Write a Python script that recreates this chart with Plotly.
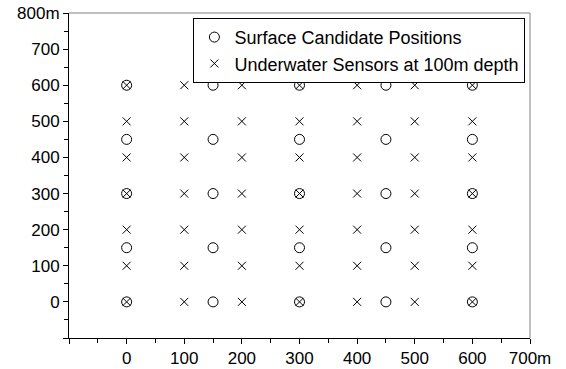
import plotly.graph_objects as go

# Surface candidate positions (circles)
surface_x = [0, 150, 300, 450, 600, 0, 150, 300, 450, 600, 0, 150, 300, 450, 600, 0, 150, 300, 450, 600, 0, 150, 300, 450, 600]
surface_y = [0, 0, 0, 0, 0, 150, 150, 150, 150, 150, 300, 300, 300, 300, 300, 450, 450, 450, 450, 450, 600, 600, 600, 600, 600]

# Underwater sensors (crosses)
sensor_x = [0, 100, 200, 300, 400, 500, 600] * 7
sensor_y = ([0] * 7 + [100] * 7 + [200] * 7 + [300] * 7 + [400] * 7 + [500] * 7 + [600] * 7)

x_tickvals = [-100, 0, 100, 200, 300, 400, 500, 600, 700]
x_ticktext = ["", "0", "100", "200", "300", "400", "500", "600", "700m"]
y_tickvals = [-100, 0, 100, 200, 300, 400, 500, 600, 700, 800]
y_ticktext = ["", "0", "100", "200", "300", "400", "500", "600", "700", "800m"]

FONT = "Liberation Sans, Arial, Helvetica, sans-serif"
FS = 18
TFS = 17

fig = go.Figure()
fig.add_trace(go.Scatter(
    x=surface_x, y=surface_y, mode="markers", name="Surface Candidate Positions",
    marker=dict(symbol="circle-open", size=10, color="black", line=dict(width=1, color="black")),
))
fig.add_trace(go.Scatter(
    x=sensor_x, y=sensor_y, mode="markers", name="Underwater Sensors at 100m depth",
    marker=dict(symbol="x-thin-open", size=8, color="black", line=dict(width=1, color="black")),
))

axis_common = dict(
    showgrid=False, zeroline=False, showline=True, linecolor="black", linewidth=1,
    ticks="outside", ticklen=5, tickcolor="black", tickwidth=1, automargin=False,
    tickfont=dict(family=FONT, size=TFS, color="black"),
    minor=dict(ticks="outside", ticklen=4, tickcolor="black", dtick=50, tickwidth=1),
)

fig.update_xaxes(range=[-100, 700], tickmode="array", tickvals=x_tickvals, ticktext=x_ticktext, **axis_common)
fig.update_yaxes(range=[-100, 800], tickmode="array", tickvals=y_tickvals, ticktext=y_ticktext, **axis_common)

# gray top/right frame
fig.add_shape(type="line", xref="paper", yref="paper", x0=0, x1=1, y0=1, y1=1, line=dict(color="#808080", width=1))
fig.add_shape(type="line", xref="paper", yref="paper", x0=1, x1=1, y0=0, y1=1, line=dict(color="#808080", width=1))

fig.update_layout(
    width=566, height=369,
    margin=dict(l=69, r=36, t=13, b=31),
    plot_bgcolor="white", paper_bgcolor="white",
    font=dict(family=FONT, size=FS, color="black"),
    legend=dict(
        x=0.99, y=0.985, xanchor="right", yanchor="top",
        bgcolor="white", bordercolor="black", borderwidth=1,
        font=dict(family=FONT, size=FS, color="black"),
        tracegroupgap=0, itemwidth=30,
    ),
    showlegend=True,
)

fig.write_html("out.html")
